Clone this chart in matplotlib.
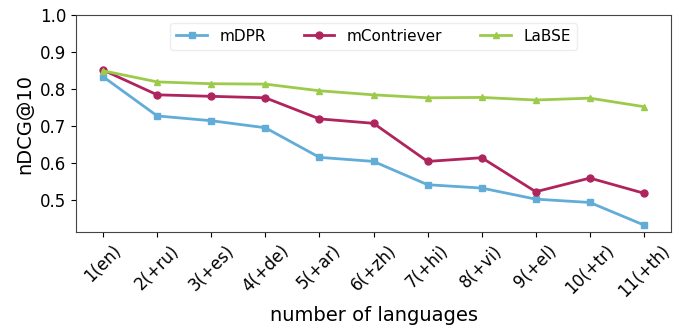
import matplotlib
matplotlib.use("Agg")
import matplotlib.pyplot as plt

labels = ["1(en)", "2(+ru)", "3(+es)", "4(+de)", "5(+ar)", "6(+zh)", "7(+hi)", "8(+vi)", "9(+el)", "10(+tr)", "11(+th)"]
mdpr = [0.833, 0.727, 0.714, 0.695, 0.615, 0.604, 0.541, 0.532, 0.502, 0.493, 0.432]
mcontriever = [0.851, 0.784, 0.780, 0.776, 0.719, 0.707, 0.604, 0.614, 0.522, 0.559, 0.518]
labse = [0.849, 0.819, 0.814, 0.813, 0.795, 0.784, 0.776, 0.777, 0.770, 0.775, 0.752]

fig = plt.figure(figsize=(6.73, 3.32), dpi=100)
ax = fig.add_axes([0.113, 0.301, 0.884, 0.654])
x = list(range(len(labels)))
ax.plot(x, mdpr, color="#62acd8", marker="s", markersize=5, linewidth=2, label="mDPR")
ax.plot(x, mcontriever, color="#b0245e", marker="o", markersize=5, linewidth=2, label="mContriever")
ax.plot(x, labse, color="#9ccb4c", marker="^", markersize=5, linewidth=2, label="LaBSE")

ax.set_xlim(-0.5, 10.5)
ax.set_ylim(0.413, 1.0)
ax.set_yticks([0.5, 0.6, 0.7, 0.8, 0.9, 1.0])
ax.set_xticks(x)
ax.set_xticklabels(labels, rotation=45, fontsize=12)
ax.tick_params(axis="y", labelsize=12)
ax.set_ylabel("nDCG@10", fontsize=14)
ax.set_xlabel("number of languages", fontsize=14)
for s in ax.spines.values():
    s.set_color("#444444")
ax.legend(loc="upper center", ncol=3, fontsize=11, frameon=True, framealpha=0.5,
          edgecolor="#dddddd", bbox_to_anchor=(0.5, 1.0), columnspacing=2.5)
fig.savefig("out.png", dpi=100)
